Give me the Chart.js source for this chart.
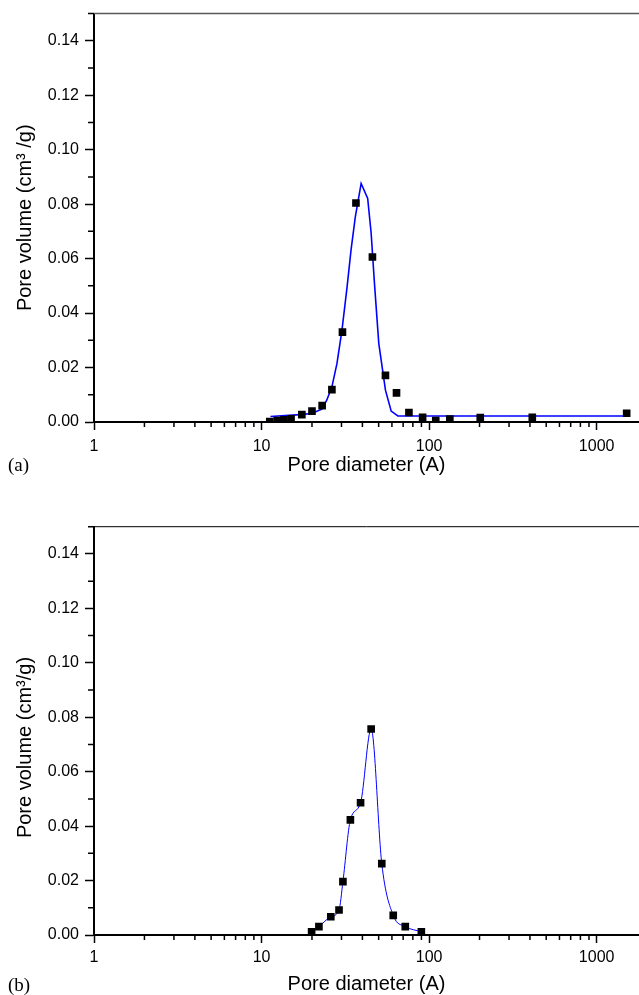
<!DOCTYPE html>
<html>
<head>
<meta charset="utf-8">
<script src="https://cdn.jsdelivr.net/npm/chart.js@4.4.1/dist/chart.umd.min.js"></script>
<style>
  body { margin: 0; background: #fff; }
  #wrap { position: relative; width: 639px; height: 995px; overflow: hidden; }
  canvas { position: absolute; left: 0; }
  .tag { position: absolute; left: 8px; font-family: 'Liberation Serif', 'Times New Roman', serif; font-size: 19px; line-height: 20px; color: #000; }
</style>
</head>
<body>
<div id="wrap">
  <canvas id="chartA" width="639" height="478" style="top:0"></canvas>
  <canvas id="chartB" width="639" height="517" style="top:478px"></canvas>
  <div class="tag" style="top:455px">(a)</div>
  <div class="tag" style="top:975px">(b)</div>
</div>
<script>
// axis ticks
var xMajor = [1, 10, 100, 1000];
var yMajor = [0, 0.02, 0.04, 0.06, 0.08, 0.10, 0.12, 0.14];
var yMinor = [0.01, 0.03, 0.05, 0.07, 0.09, 0.11, 0.13, 0.15];

// (a) measured points
var diamA = [11.2, 12.4, 13.6, 15.0, 17.4, 20.0, 23.0, 26.3, 30.4, 36.6, 45.9, 54.9, 63.9, 75.8, 91.5, 109.6, 133, 202, 413, 1511];
var volA = [0.0002, 0.0005, 0.0008, 0.0012, 0.0027, 0.0040, 0.0060, 0.0119, 0.0330, 0.0804, 0.0606, 0.0171, 0.0107, 0.0035, 0.0017, 0.0005, 0.0011, 0.0016, 0.0017, 0.0032];
// (a) fitted curve
var fitDiamA = [11.3, 17.0, 19.9, 22.9, 24.5, 26.3, 28.2, 30.2, 32.4, 34.2, 36.3, 39.3, 43.0, 45.1, 47.2, 50.1, 54.9, 59.4, 65.1, 1511];
var fitVolA = [0.0020, 0.0027, 0.0031, 0.0047, 0.0080, 0.0129, 0.0215, 0.0337, 0.0496, 0.0631, 0.0754, 0.0876, 0.0821, 0.0693, 0.0509, 0.0288, 0.0117, 0.0040, 0.0022, 0.0022];

// (b) measured points (curve goes through them)
var diamB = [19.9, 22.0, 25.9, 29.0, 30.6, 33.9, 39.0, 45.1, 52.2, 61.1, 72.1, 89.9];
var volB = [0.0012, 0.0031, 0.0067, 0.0092, 0.0196, 0.0423, 0.0486, 0.0757, 0.0262, 0.0072, 0.0031, 0.0012];

Chart.defaults.font.family = "'Liberation Sans', Arial, sans-serif";
Chart.defaults.color = '#000';

function pts(xs, ys) {
  return xs.map(function (x, i) { return {x: x, y: ys[i]}; });
}

// top frame line + short minor ticks
var frame = {
  id: 'frame',
  afterDraw: function (chart, args, opts) {
    var ctx = chart.ctx, a = chart.chartArea;
    var x = chart.scales.x, y = chart.scales.y;
    ctx.save();
    ctx.strokeStyle = opts.topColor;
    ctx.lineWidth = opts.topWidth;
    ctx.beginPath();
    ctx.moveTo(a.left, a.top);
    ctx.lineTo(a.right, a.top);
    ctx.stroke();

    ctx.strokeStyle = '#000';
    ctx.lineWidth = 1.5;
    ctx.beginPath();
    yMinor.forEach(function (v) {
      var p = y.getPixelForValue(v);
      ctx.moveTo(a.left - 6, p);
      ctx.lineTo(a.left, p);
    });
    xMajor.forEach(function (d) {
      for (var m = 2; m < 10; m++) {
        if (m * d > x.max) continue;
        var p = x.getPixelForValue(m * d);
        ctx.moveTo(p, a.bottom);
        ctx.lineTo(p, a.bottom + 5);
      }
    });
    ctx.stroke();
    ctx.restore();
  }
};

function makeChart(id, o) {
  return new Chart(document.getElementById(id), {
    type: 'line',
    data: { datasets: o.datasets },
    plugins: [frame],
    options: {
      responsive: false,
      animation: false,
      events: [],
      layout: { autoPadding: false, padding: { top: o.top, right: 0, bottom: 0, left: 0 } },
      plugins: {
        legend: { display: false },
        tooltip: { enabled: false },
        frame: { topColor: o.topColor, topWidth: o.topWidth }
      },
      scales: {
        x: {
          type: 'logarithmic',
          min: 1,
          max: 1790,
          afterBuildTicks: function (s) { s.ticks = xMajor.map(function (v) { return {value: v}; }); },
          afterFit: function (s) { s.height = o.xHeight; s.paddingLeft = 0; s.paddingRight = 0; },
          ticks: {
            font: { size: 16, lineHeight: 1 },
            padding: o.xPad,
            maxRotation: 0,
            callback: function (v) { return String(v); }
          },
          grid: { drawOnChartArea: false, tickLength: 8, tickWidth: 1.5, tickColor: '#000' },
          border: { color: '#000', width: 2 },
          title: {
            display: true,
            text: 'Pore diameter (A)',
            font: { size: 20, lineHeight: 1 },
            padding: { top: 0, bottom: o.titlePad }
          }
        },
        y: {
          min: 0,
          max: 0.15,
          afterBuildTicks: function (s) { s.ticks = yMajor.map(function (v) { return {value: v}; }); },
          afterFit: function (s) { s.width = 94; s.paddingTop = 0; s.paddingBottom = 0; },
          ticks: {
            font: { size: 16, lineHeight: 1 },
            padding: 6,
            callback: function (v) { return v.toFixed(2); }
          },
          grid: { drawOnChartArea: false, tickLength: 9, tickWidth: 1.5, tickColor: '#000' },
          border: { color: '#000', width: 2 },
          title: {
            display: true,
            text: o.yTitle,
            font: { size: 20, lineHeight: 1 },
            padding: { top: 15, bottom: 0 }
          }
        }
      }
    }
  });
}

makeChart('chartA', {
  top: 13.5, xHeight: 56, xPad: 9, titlePad: 3,
  topColor: '#5a5a5a', topWidth: 1.5,
  yTitle: 'Pore volume (cm\u00b3 /g)',
  datasets: [
    {
      data: pts(diamA, volA), order: 0, showLine: false,
      pointStyle: 'rect', pointRadius: 5.4, pointBackgroundColor: '#000', pointBorderWidth: 0
    },
    {
      data: pts(fitDiamA, fitVolA), order: 1,
      borderColor: '#0000ff', borderWidth: 1.6, tension: 0, pointRadius: 0
    }
  ]
});

makeChart('chartB', {
  top: 48.7, xHeight: 60, xPad: 7, titlePad: 1,
  topColor: '#000', topWidth: 1,
  yTitle: 'Pore volume (cm\u00b3/g)      ',
  datasets: [
    {
      data: pts(diamB, volB), order: 0, showLine: false,
      pointStyle: 'rect', pointRadius: 5.4, pointBackgroundColor: '#000', pointBorderWidth: 0
    },
    {
      data: pts(diamB, volB), order: 1,
      borderColor: '#0000ff', borderWidth: 1, cubicInterpolationMode: 'monotone', pointRadius: 0
    }
  ]
});
</script>
</body>
</html>
